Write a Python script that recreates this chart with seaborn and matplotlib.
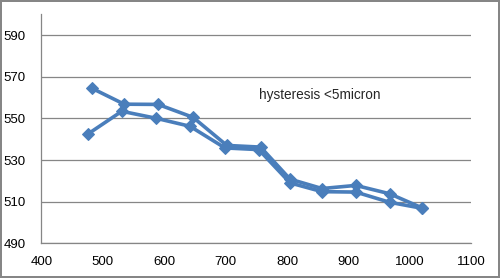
import matplotlib
matplotlib.use('Agg')
import matplotlib.pyplot as plt
import seaborn as sns
import pandas as pd

# forward / return sweeps of the hysteresis measurement
x_up = [482, 535, 590, 647, 702, 757, 805, 857, 912, 967, 1020]
y_up = [564.5, 556.8, 556.7, 550.5, 537.0, 536.2, 520.8, 516.3, 517.8, 513.8, 507.0]

x_down = [476, 531, 586, 642, 699, 754, 805, 857, 912, 967, 1020]
y_down = [542.5, 553.4, 550.1, 546.2, 535.8, 535.0, 519.0, 514.8, 514.6, 509.7, 506.8]

x_ticks = [400, 500, 600, 700, 800, 900, 1000, 1100]
y_ticks = [490, 510, 530, 550, 570, 590]

df = pd.concat([
    pd.DataFrame({'x': x_up, 'y': y_up, 'series': 'up'}),
    pd.DataFrame({'x': x_down, 'y': y_down, 'series': 'down'}),
])

sns.set_style('white')
plt.rcParams['font.family'] = ['Liberation Sans', 'DejaVu Sans']

blue = '#4A7EBB'
grid_c = '#868686'

fig = plt.figure(figsize=(5, 2.78), dpi=100, linewidth=1.5, edgecolor=grid_c)
ax = fig.add_axes([0.0826, 0.1248, 0.86, 0.824])

sns.lineplot(data=df, x='x', y='y', hue='series', palette=[blue, blue],
             sort=False, estimator=None, legend=False,
             marker='D', markersize=6, markeredgecolor=blue,
             linewidth=2.6, ax=ax)

ax.set_xlim(400, 1100)
ax.set_ylim(490, 600)
ax.set_xticks(x_ticks)
ax.set_yticks(y_ticks)
ax.set_xlabel('')
ax.set_ylabel('')
ax.yaxis.grid(True, color=grid_c, linewidth=0.9)
ax.set_axisbelow(True)
for s in ['top', 'right']:
    ax.spines[s].set_visible(False)
for s in ['left', 'bottom']:
    ax.spines[s].set_color(grid_c)
    ax.spines[s].set_linewidth(0.9)
ax.tick_params(axis='both', direction='out', length=4, width=0.9,
               color=grid_c, labelsize=9.5, labelcolor='#000000')
ax.tick_params(axis='x', pad=5)
ax.tick_params(axis='y', pad=7)

ax.text(755, 561.2, 'hysteresis <5micron', fontsize=9.8, va='center', ha='left')

fig.savefig('out.png', dpi=100)
